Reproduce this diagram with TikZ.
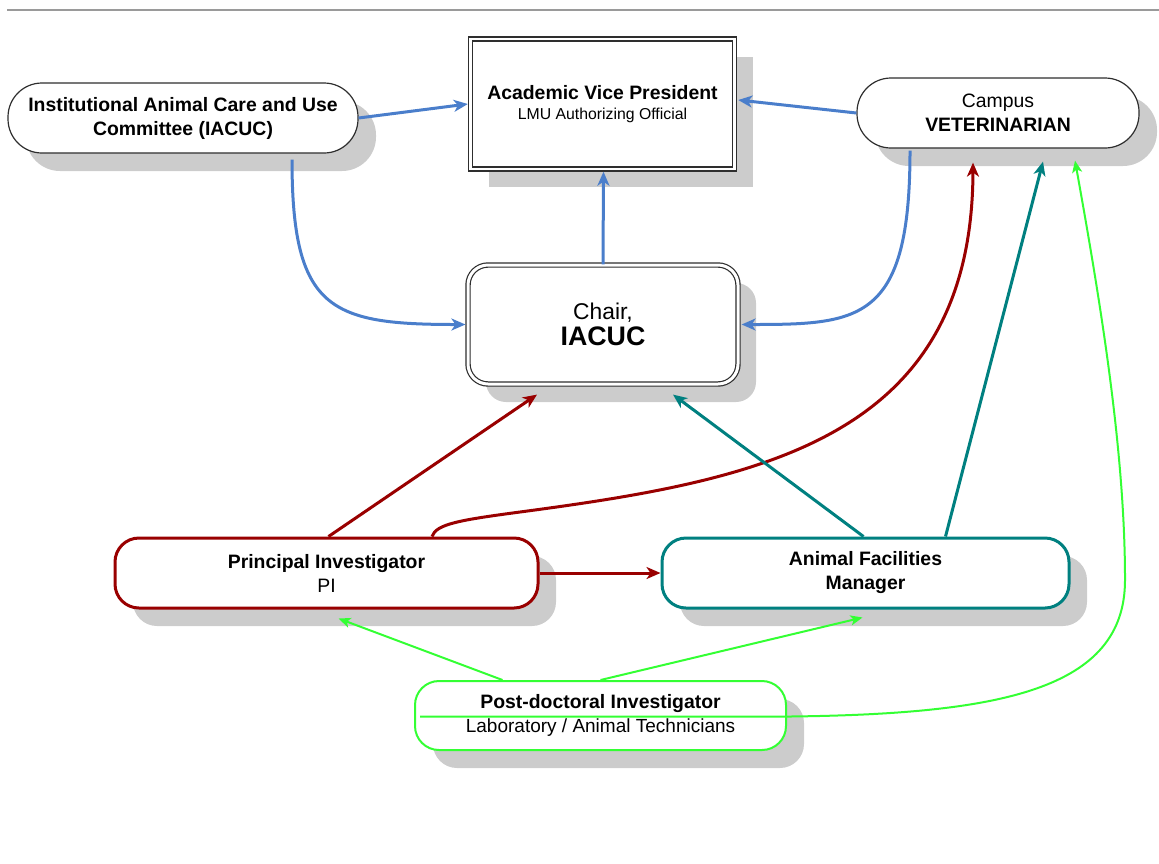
\documentclass[tikz,border=0pt]{standalone}
\usepackage{fontspec}
\setmainfont{Liberation Sans}
\usetikzlibrary{arrows.meta,calc,shadows}
\definecolor{cblue}{HTML}{4A7ECB}
\definecolor{cred}{HTML}{990000}
\definecolor{cteal}{HTML}{008080}
\definecolor{cgreen}{HTML}{33FF33}
\definecolor{cshadow}{HTML}{CCCCCC}
\definecolor{cedge}{HTML}{2E2E2E}
\definecolor{crule}{HTML}{9A9A9A}
\begin{document}
\begin{tikzpicture}[x=0.5pt,y=-0.5pt,
  shad/.style={drop shadow={shadow xshift=9pt,shadow yshift=-9pt,fill=cshadow,opacity=1}},
  box/.style={shad,fill=white,align=center,inner sep=0pt,font=\fontsize{9.7}{12}\selectfont},
  pill/.style={box,draw=cedge,line width=0.6pt,rounded corners=17pt,minimum height=35pt},
  colbox/.style={box,draw=#1,line width=1.5pt,rounded corners=12pt,minimum height=35pt},
  arr/.style={line width=1.5pt,-{Stealth[length=7pt,width=6pt,inset=2pt]}},
  garr/.style={line width=1pt,draw=cgreen,-{Stealth[length=6pt,width=5pt,inset=1.5pt]}}
]
\useasboundingbox (0,0) rectangle (1159,863);
\draw[crule,line width=1pt] (7,9.5) -- (1159,9.5);

% nodes
\node[pill,minimum width=175pt] (iacuc) at (183,118)
  {\bfseries Institutional Animal Care and Use\\\bfseries Committee (IACUC)};
\node[box,draw=cedge,line width=0.7pt,double=white,double distance=1.4pt,
      minimum width=132pt,minimum height=65pt] (avp) at (602.5,104)
  {\bfseries Academic Vice President\\[-2pt]{\fontsize{7.9}{10}\selectfont LMU Authorizing Official}};
\node[pill,minimum width=141pt] (vet) at (998,113)
  {Campus\\\bfseries VETERINARIAN};
\node[box,draw=cedge,line width=0.6pt,double=white,double distance=1.5pt,
      rounded corners=10pt,minimum width=135pt,minimum height=59.5pt] (chair) at (603,324.5)
  {{\fontsize{11.4}{14}\selectfont Chair,}\\[1pt]{\fontsize{13.4}{15}\selectfont\bfseries IACUC}};
\node[colbox=cred,minimum width=211.5pt] (pi) at (326.5,573)
  {\bfseries Principal Investigator\\PI};
\node[colbox=cteal,minimum width=203.5pt] (afm) at (865.5,573)
  {\bfseries Animal Facilities\\\bfseries Manager};
\node[colbox=cgreen,line width=1pt,minimum width=185.5pt,minimum height=34.5pt] (pd) at (600.5,715.5)
  {\bfseries Post-doctoral Investigator\\{\fontsize{9.5}{12}\selectfont Laboratory / Animal Technicians}};

% blue connectors
\draw[arr,cblue] (iacuc.east) -- ($(avp.west)+(-2,0)$);
\draw[arr,cblue] (vet.west) -- ($(avp.east)+(3,-4)$);
\draw[arr,cblue] (chair.north) -- ($(avp.south)+(1,2)$);
\draw[arr,cblue] ($(iacuc.south)+(109,6)$) .. controls (292,310) and (330,324.5) .. ($(chair.west)+(-2,0)$);
\draw[arr,cblue] ($(vet.south)+(-88,2)$) .. controls (910,322) and (860,324.5) .. ($(chair.east)+(3,0)$);

% red connectors
\draw[arr,cred] ($(pi.north)+(2,0)$) -- ($(chair.south)+(-66,10)$);
\draw[arr,cred] ($(pi.north)+(105.5,0)$) .. controls (436,524) and (460,520) .. (520,512)
  .. controls (760,480) and (972,440) .. ($(vet.south)+(-25,14)$);
\draw[arr,cred] (pi.east) -- (afm.west);

% teal connectors
\draw[arr,cteal] ($(afm.north)+(-2,0)$) -- ($(chair.south)+(70,10)$);
\draw[arr,cteal] ($(afm.north)+(80,0)$) -- ($(vet.south)+(45,13)$);

% green connectors
\draw[garr] ($(pd.north)+(-98,0)$) -- ($(pi.south)+(12,9)$);
\draw[garr] (pd.north) -- ($(afm.south)+(-3,8)$);
\draw[garr] ($(pd.west)+(6,1)$) -- (790,716.5)
  .. controls (1000,714) and (1125,690) .. (1125,580)
  .. controls (1125,450) and (1100,300) .. ($(vet.south)+(77,12)$);
\end{tikzpicture}
\end{document}
